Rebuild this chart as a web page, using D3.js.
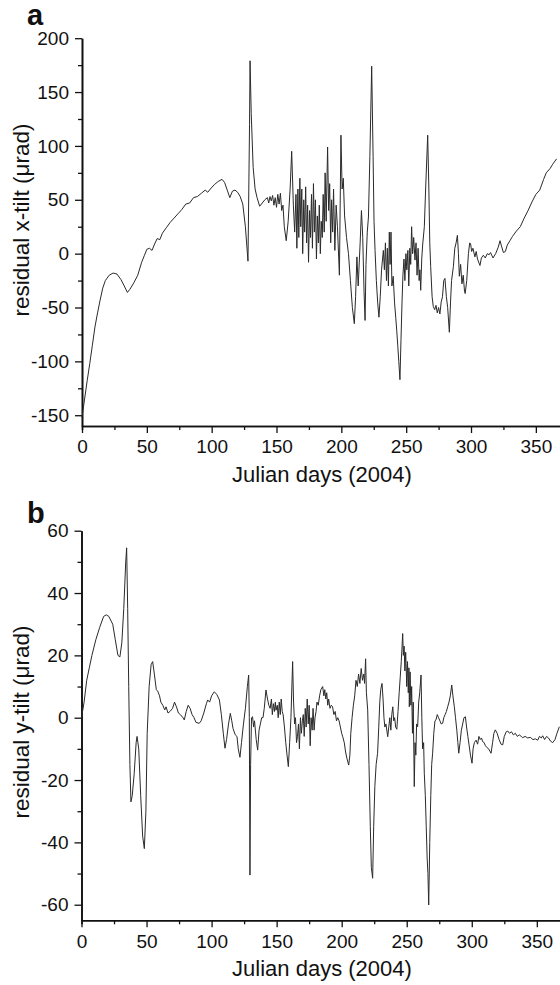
<!DOCTYPE html>
<html>
<head>
<meta charset="utf-8">
<script src="https://cdn.jsdelivr.net/npm/d3@7"></script>
<style>
  body { margin: 0; background: #fff; }
  text { font-family: "Liberation Sans", Arial, sans-serif; fill: #111; }
</style>
</head>
<body>
<svg id="chart" width="560" height="985"></svg>
<script>
// panel a: residual x-tilt
const daysA = [0,2,4,6,8,10,12,14,16,18,21,24,27,30,33,35,37,40,43,46,48,50,52,54,56,58,60,62,65,68,71,74,77,80,83,86,89,92,95,97,99,102,105,108,110,112,114,116,118,120,122,124,126,128,129.2,129.6,130.5,132,133.5,135,137,139,141,143,144,145,146,147,148,149,150,151,152,153,154,155,156,157.5,159,160.5,161.7,163,164,165,165.7,166.5,167.2,168,168.7,169.5,170.2,171,171.7,172.5,173.2,174,174.7,175.5,176.2,177,177.7,178.5,179.2,180,180.8,181.5,182.3,183,183.8,184.5,185.3,186,186.8,187.5,188.3,189.4,190.2,191,191.8,192.5,193.3,194,195,196,197,198.5,199.7,200.6,201.5,202.5,204,205.5,207,208.5,210,211,212,213,214.5,215.5,216.5,217.5,218.3,219,220,220.9,222,223.4,224.5,225.2,226,227,228,229,230,231,232.4,233.2,234,234.8,235.5,236.3,237,237.6,238.3,239,240,241,242,242.7,243.5,244.3,245.2,246,246.8,247.5,248.3,249,249.8,250.5,251.3,252,252.8,253.5,254.2,255,255.8,256.8,257.6,258.4,259.2,260,260.6,261.2,262,262.7,264,265,266.6,267.5,268.2,268.9,270,270.9,272,273,274,275,276,277,278,279,279.9,281,282,283.3,284.2,285,286.4,287.5,288.5,289.5,290.3,291,292,293,294,295,295.5,296.7,298,299,299.7,300.5,301.5,303,304,305,306.9,308,309.5,311,312.5,314,315,317,319,321,322.4,323.5,325,326.5,328,330,332,335,338,341,344,347,350,353,356,358,361,363,366];
const xTilt = [-152,-135,-118,-102,-85,-68,-55,-43,-32,-25,-20,-18,-19,-24,-31,-36,-33,-27,-20,-8,-2,4,5,3,9,14,13,19,24,29,33,37,41,46,47,52,53,56,59,57,60,64,67,69,66,59,52,58,59,57,53,46,25,-7,120,179,130,80,60,52,44,47,50,52,47,53,49,54,45,52,43,55,46,56,40,45,25,12,30,60,95,45,20,55,5,60,15,70,25,60,0,50,20,62,10,45,-8,40,15,55,5,65,20,50,-5,35,10,45,0,30,15,55,20,75,30,99,40,65,10,50,20,60,3,45,25,-20,110,60,70,35,15,0,-25,-50,-65,-40,-3,-30,10,40,15,-35,-62,-10,20,34,90,174,90,30,3,-25,-45,-59,-40,-15,3,-15,10,-25,5,-30,20,-10,20,-30,-21,-45,-60,-71,-85,-100,-117,-80,-45,-20,-5,-25,0,-15,3,-30,5,-10,25,0,15,-6,10,-20,5,-25,-15,-34,-5,8,25,60,110,60,10,-12,-40,-49,-52,-48,-55,-50,-56,-45,-40,-25,-23,-40,-50,-73,-45,-25,-12,5,10,17,0,-21,-10,-28,-20,-35,-37,-25,0,10,9,2,5,-3,2,-5,-11,-4,-1.5,-4,0,-1,1,-4,0,6,12,7,1,2,8,12,16,21,25,33,40,48,55,59,69,75,79,83,88];

// panel b: residual y-tilt
const daysB = [0,2,4,6,8,11,14,17,19,21,24,26,28,29.5,31,32.5,34,34.7,35.5,36.3,37.2,38,39,40.5,42,42.7,44,45.5,47,48.3,49.5,50.5,52,53.5,54.7,56,57.5,58.6,60,61,62.5,64,65,66.5,68,70,71.5,73,74.5,76,78,79,80.5,82,83.5,85,86.5,88,90.5,92,94,96,97,98.5,100,102,104,106,107.5,109,110.3,111.5,113,114.4,115.5,116.5,118.2,119.5,120.5,121.8,123,124.5,126,127.5,128.5,129,129.5,130,130.7,131.5,132.3,133,134.3,135.4,136.5,137.5,138.5,139.5,140.5,141.8,143,144,145,146,146.7,147.5,148.3,149,149.5,150.5,151.2,152,152.8,153.5,154.3,155,156,157,158,159,160,161,162.3,163,163.8,164.5,165.3,166,166.8,167.5,168.3,169,169.8,170.5,171.2,172,172.7,173.5,174.3,175,175.8,176.5,177.3,178,178.8,179.5,180.3,181,182,183,184,185.4,186.3,187,187.8,188.5,189.3,190,191,192,193,194,195,196,197,198,199,200,200.8,202,203,204,205.4,206.3,207,208,209,210,211,212,213,214,215,216,217,217.6,218.4,219,220,221,222,222.8,223.8,224.6,225.5,226.5,227.6,228.5,229.3,230,231,231.8,232.5,233.2,234,235.4,236.2,237,237.8,238.5,239.3,240,240.7,241.5,242.4,243.3,244.2,245,245.8,246.3,246.9,247.4,248,248.6,249.2,249.5,250,250.6,251.2,251.7,252,252.6,253.2,253.8,254.4,255,255.8,256.4,257,257.6,258.4,259.2,260,261,261.6,262.2,263,263.5,264.3,265,265.7,266.3,266.9,267.7,268.5,269.2,269.9,270.8,271.7,272.5,273.5,274.5,275.5,276.5,277.6,278.5,279.5,280.5,281.5,282.5,283.5,284.6,285.5,286.6,287.5,288.5,289.3,290,291,292,293,294,295.1,296,297,298,299,300.2,301,302,303.3,304.5,305.5,306.5,307.5,308.4,309.5,310.5,311.5,313,314.8,316,317,318.1,319.5,321,322.5,323.8,325,326.5,327.7,329,330.5,332,333.5,335,336.5,338,339.2,341,343,345,347,349,350.7,352,353.5,354.5,356,357.5,359,360.5,362.2,364,365.5,367.3];
const yTilt = [0,5,12,16,20,25,29,32.5,33,32.5,30,25,20,19.5,24,35,50,54.5,35,10,-15,-27,-25,-18,-8,-6,-10,-25,-38,-42,-30,-5,10,17,18,14,9,8.5,7,5,4,2.5,3.5,1.5,2,3,5,3.5,1.5,1,0,-0.7,2,4,3,1,0,-1.5,-1.8,-1,1.5,4.5,5.7,5,7,8.3,7.5,5.7,1,-5,-9.8,-7,-2,1.4,-1,-3.5,-5.5,-6,-10,-12.7,-8,-2,3,10,13.7,0,-50.5,-15,0,0.3,-3,-1,-7,-10.4,-4,-2,0,0,3,8.9,6,4,3,6,1,4.5,2,5,2.4,4,0,5,1,6,2,1,-3,-8,-12,-15.7,-8,0,18,5,-2,0,-8,-6.1,-2,-10,0,-5,-1,1,-6,3,-3,6,-2,4,-9,0,-4,3,-4,0,2,5,4,7,9,10,7,9,6,8,4,6,3,4,3.5,1,2,-1,0,-1,-3,-5,-6.1,-8,-11,-13,-15.2,-12,-5,0,4,7,12,10,14,11,15.8,12,14,11,18.9,8,2.5,-15,-35,-48,-51.5,-35,-22,-15,-11.4,-3,5,9,11,6,0,-3,-2,-6.1,-3,0,-4,1,3.5,-1,0,-3,-3.7,2,8,13,18,22,27,20,23,15,21,17.4,10,18,8,16,3.5,14.7,4,10,-5,5,-22.1,-8,-12,-2,-2.9,5,8,13.7,0,-10,-8,-17.8,-25,-35,-45,-50,-60.1,-40,-25,-15,-11.4,-5,-1,-0.7,1,0,-1,-2,-1.8,0,1,2,3.5,5,7,10.5,7,3.5,0,-4,-8,-11.4,-8,-4,-2,0,0.3,-3,-6,-9,-12,-14.6,-10,-8,-7.2,-8.5,-6,-7,-6.5,-7.7,-8,-9,-9.5,-10,-11.4,-8,-5,-3.9,-5,-7,-8.5,-8.7,-6,-4.5,-4.3,-5,-4.5,-5.5,-5,-6,-5.5,-6,-6.4,-6,-6.5,-6.3,-7,-6.8,-7.2,-6,-6.5,-5.8,-7,-6,-6.5,-7.5,-8,-7,-5,-2.9];

const dayTicks = [0, 50, 100, 150, 200, 250, 300, 350];
const ticksA = [-150, -100, -50, 0, 50, 100, 150, 200];
const ticksB = [-60, -40, -20, 0, 20, 40, 60];

const svg = d3.select("#chart");
const plain = d => String(d); // hyphen minus, as printed

function drawPanel(o) {
  const x = d3.scaleLinear().domain([0, 370]).range([o.left, o.left + 370 * o.pxPerDay]);
  const y = d3.scaleLinear().domain(o.yDomain).range([o.bottom, o.top]);
  const g = svg.append("g");

  const minorDays = d3.range(25, 370, 50);
  g.append("g").attr("transform", `translate(0,${o.bottom})`)
    .call(d3.axisBottom(x).tickValues(minorDays).tickSize(4).tickFormat(""));
  const gx = g.append("g").attr("transform", `translate(0,${o.bottom})`)
    .call(d3.axisBottom(x).tickValues(dayTicks).tickSize(7).tickSizeOuter(0).tickPadding(7).tickFormat(plain));
  gx.selectAll("text").attr("font-size", 19);

  const minorY = o.ticks.slice(0, -1).map(v => v + o.step / 2);
  g.append("g").attr("transform", `translate(${o.left},0)`)
    .call(d3.axisLeft(y).tickValues(minorY).tickSize(4).tickFormat("").tickSizeOuter(0));
  const gy = g.append("g").attr("transform", `translate(${o.left},0)`)
    .call(d3.axisLeft(y).tickValues(o.ticks).tickSize(7).tickSizeOuter(0).tickPadding(6).tickFormat(plain));
  gy.selectAll("text").attr("font-size", 19);

  g.selectAll(".domain").attr("stroke", "#111").attr("stroke-width", 1.6);
  g.selectAll(".tick line").attr("stroke", "#111").attr("stroke-width", 1.3);

  const line = d3.line().x((d, i) => x(o.days[i])).y(d => y(d));
  g.append("path").datum(o.values)
    .attr("d", line)
    .attr("fill", "none")
    .attr("stroke", "#2a2a2a")
    .attr("stroke-width", 1)
    .attr("stroke-linejoin", "round");

  g.append("text")
    .attr("x", o.xTitleX).attr("y", o.bottom + 56)
    .attr("text-anchor", "middle").attr("font-size", 22)
    .text("Julian days (2004)");

  g.append("text")
    .attr("transform", `translate(28.5,${o.yTitleY}) rotate(-90)`)
    .attr("text-anchor", "middle").attr("font-size", 22.5)
    .text(o.yTitle);

  g.append("text")
    .attr("x", 27).attr("y", o.letterY)
    .attr("font-size", 29).attr("font-weight", "bold")
    .text(o.letter);
}

drawPanel({
  days: daysA, values: xTilt, ticks: ticksA, step: 50,
  yDomain: [-160, 200], left: 82, pxPerDay: 1.2967, top: 38.2, bottom: 426,
  xTitleX: 322, yTitleY: 220, yTitle: "residual x-tilt (\u03bcrad)",
  letter: "a", letterY: 25
});

drawPanel({
  days: daysB, values: yTilt, ticks: ticksB, step: 20,
  yDomain: [-65, 60], left: 81.5, pxPerDay: 1.3009, top: 530.7, bottom: 920.3,
  xTitleX: 322, yTitleY: 722, yTitle: "residual y-tilt (\u03bcrad)",
  letter: "b", letterY: 523
});
</script>
</body>
</html>
